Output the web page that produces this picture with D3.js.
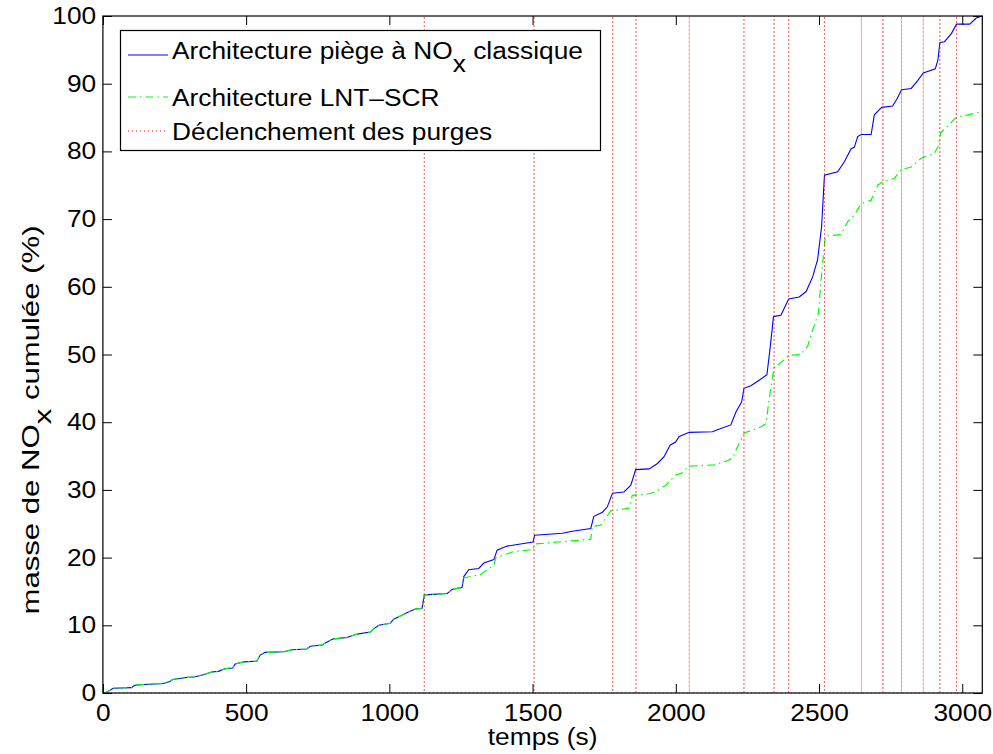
<!DOCTYPE html>
<html>
<head>
<meta charset="utf-8">
<script src="https://cdn.jsdelivr.net/npm/d3@7"></script>
<style>
  body { margin: 0; background: #fff; }
  text { font-family: "Liberation Sans", Arial, Helvetica, sans-serif; fill: #000; }
</style>
</head>
<body>
<svg id="chart" width="993" height="754"></svg>
<script>
// Axis ticks
const xTicks = [0, 500, 1000, 1500, 2000, 2500, 3000];
const yTicks = [0, 10, 20, 30, 40, 50, 60, 70, 80, 90, 100];

// Purge trigger instants (s)
const purgeTimes = [1122, 1505, 1780, 1861, 2047, 2238, 2343, 2394, 2519, 2648, 2723, 2788, 2864, 2922, 2980];

// Cumulated NOx mass (%), conventional NOx trap: [time s, %]
const piegeClassique = [
  [0,0],[12,0.1],[25,0.4],[36,0.7],[100,0.8],[110,1.1],[120,1.2],[164,1.3],[211,1.4],[234,1.7],
  [243,2.0],[292,2.3],[322,2.4],[351,2.7],[380,3.1],[403,3.2],[427,3.6],[453,3.7],[462,4.3],[491,4.6],
  [537,4.7],[549,5.6],[566,6.0],[631,6.1],[660,6.4],[712,6.5],[724,6.9],[765,7.1],[794,7.8],[805,8.0],
  [852,8.2],[887,8.7],[934,9.0],[943,9.4],[963,10.0],[1003,10.3],[1015,10.9],[1044,11.5],[1068,12.0],[1091,12.4],
  [1114,12.5],[1122,14.5],[1202,14.7],[1219,15.3],[1254,15.6],[1260,17.2],[1277,18.2],[1312,18.4],[1330,19.2],[1365,19.7],
  [1376,21.1],[1411,21.7],[1458,22.0],[1502,22.3],[1507,23.3],[1604,23.6],[1639,23.9],[1703,24.3],[1714,26.1],[1744,26.7],
  [1761,27.5],[1779,29.5],[1819,29.7],[1843,30.7],[1860,33.0],[1907,33.1],[1936,33.9],[1959,34.9],[1980,36.6],[2000,37.1],
  [2012,37.9],[2047,38.5],[2128,38.6],[2145,38.9],[2192,39.6],[2210,41.5],[2230,43.0],[2238,45.0],[2262,45.4],[2291,46.2],
  [2318,47.0],[2330,51.2],[2341,55.6],[2367,55.8],[2394,58.2],[2431,58.5],[2455,59.3],[2478,61.5],[2495,64.0],[2509,68.9],
  [2519,76.5],[2565,77.0],[2589,78.5],[2612,80.4],[2623,80.6],[2635,82.2],[2647,82.5],[2682,82.5],[2693,85.4],[2719,86.5],
  [2757,86.7],[2773,87.8],[2788,89.1],[2822,89.3],[2845,90.5],[2864,91.6],[2906,92.2],[2915,93.5],[2922,96.1],[2938,96.2],
  [2962,97.4],[2980,98.8],[3026,98.8],[3049,99.7],[3070,100]
];

// Cumulated NOx mass (%), LNT-SCR architecture: [time s, %]
const lntScr = [
  [0,0],[12,0.1],[25,0.4],[36,0.7],[100,0.8],[110,1.1],[120,1.2],[164,1.3],[211,1.4],[234,1.7],
  [243,2.0],[292,2.3],[322,2.4],[351,2.7],[380,3.1],[403,3.2],[427,3.6],[453,3.7],[462,4.3],[491,4.6],
  [537,4.7],[549,5.6],[566,6.0],[631,6.1],[660,6.4],[712,6.5],[724,6.9],[765,7.1],[794,7.8],[805,8.0],
  [852,8.2],[887,8.7],[934,9.0],[943,9.4],[963,10.0],[1003,10.3],[1015,10.9],[1044,11.5],[1068,12.0],[1091,12.4],
  [1114,12.5],[1122,14.5],[1202,14.7],[1219,15.3],[1254,15.6],[1260,17.0],[1318,17.5],[1365,18.9],[1372,20.0],[1435,20.9],
  [1502,21.2],[1507,22.0],[1645,22.5],[1703,22.7],[1709,24.6],[1738,24.8],[1773,26.9],[1837,27.3],[1848,29.2],[1901,29.4],
  [1930,29.7],[1965,30.7],[2000,32.2],[2017,32.4],[2047,33.5],[2134,33.7],[2180,34.3],[2198,34.7],[2216,36.4],[2239,38.4],
  [2297,39.3],[2315,39.8],[2321,41.8],[2332,45.2],[2344,48.3],[2355,48.4],[2396,49.9],[2437,50.0],[2460,51.2],[2478,53.6],
  [2498,56.1],[2507,61.0],[2516,64.9],[2522,67.5],[2577,67.7],[2600,69.6],[2623,70.6],[2647,72.3],[2682,72.8],[2705,75.0],
  [2722,75.5],[2763,76.0],[2787,77.3],[2822,77.7],[2857,79.0],[2903,79.7],[2915,80.7],[2924,82.7],[2981,85.1],[3020,85.4],
  [3070,85.9]
];

const xMax = 3070;
const fontSize = 23.5;
const stretch = "scale(1.12,1)";   // wide Helvetica-like lettering

const svg = d3.select("#chart");
const plotLeft = 102.9, plotRight = 982.3, plotTop = 16, plotBottom = 693;

const x = d3.scaleLinear().domain([0, xMax]).range([plotLeft, plotRight]);
const y = d3.scaleLinear().domain([0, 100]).range([plotBottom, plotTop]);

// Purge signal: 0 everywhere with a spike to 100 at each trigger
const purgeSignal = [[0, 0]];
purgeTimes.forEach(t => { purgeSignal.push([t, 0], [t, 100], [t, 0]); });
purgeSignal.push([xMax, 0]);

const line = d3.line().x(d => x(d[0])).y(d => y(d[1]));

const plot = svg.append("g");
plot.append("path").datum(piegeClassique)
  .attr("d", line).attr("fill", "none").attr("stroke", "#0000ff").attr("stroke-width", 1.1);
plot.append("path").datum(lntScr)
  .attr("d", line).attr("fill", "none").attr("stroke", "#00ff00").attr("stroke-width", 1.2)
  .attr("stroke-dasharray", "8,4,1.5,4");
plot.append("path").datum(purgeSignal)
  .attr("d", line).attr("fill", "none").attr("stroke", "#ff0000").attr("stroke-width", 1)
  .attr("stroke-opacity", 0.75).attr("stroke-dasharray", "1,3");

// Axes (ticks inside the box, on all four sides)
function styleAxis(g) {
  g.select(".domain").remove();
  g.selectAll("line").attr("stroke", "#000");
  g.selectAll("text").attr("font-size", fontSize)
    .attr("font-family", '"Liberation Sans", Arial, sans-serif')
    .attr("fill", "#000").attr("transform", stretch);
}
svg.append("g").attr("transform", `translate(0,${plotBottom})`)
  .call(d3.axisBottom(x).tickValues(xTicks).tickFormat(d3.format("d")).tickSizeInner(-9).tickSizeOuter(0).tickPadding(11))
  .call(styleAxis);
svg.append("g").attr("transform", `translate(0,${plotTop})`)
  .call(d3.axisTop(x).tickValues(xTicks).tickFormat("").tickSizeInner(-9).tickSizeOuter(0))
  .call(styleAxis);
svg.append("g").attr("transform", `translate(${plotLeft},0)`)
  .call(d3.axisLeft(y).tickValues(yTicks).tickFormat(d3.format("d")).tickSizeInner(-9).tickSizeOuter(0).tickPadding(6))
  .call(styleAxis);
svg.append("g").attr("transform", `translate(${plotRight},0)`)
  .call(d3.axisRight(y).tickValues(yTicks).tickFormat("").tickSizeInner(-9).tickSizeOuter(0))
  .call(styleAxis);

svg.append("rect").attr("x", plotLeft).attr("y", plotTop)
  .attr("width", plotRight - plotLeft).attr("height", plotBottom - plotTop)
  .attr("fill", "none").attr("stroke", "#000").attr("stroke-width", 1.2);

// Axis titles
svg.append("text")
  .attr("transform", `translate(${(plotLeft + plotRight) / 2},745) ${stretch}`)
  .attr("text-anchor", "middle").attr("font-size", fontSize)
  .text("temps (s)");

const yTitle = svg.append("text")
  .attr("transform", "translate(39,420) rotate(-90) scale(1.27,1)")
  .attr("text-anchor", "middle").attr("font-size", 24.5);
yTitle.append("tspan").text("masse de NO");
yTitle.append("tspan").attr("dy", 12).text("x");
yTitle.append("tspan").attr("dy", -12).text(" cumulée (%)");

// Legend
const legendLabels = [
  { parts: [["Architecture piège à NO", 0], ["x", 13], [" classique", -13]], color: "#0000ff", dash: null, ly: 55, ty: 59 },
  { parts: [["Architecture LNT\u2013SCR", 0]], color: "#00ff00", dash: "8,4,1.5,4", ly: 97, ty: 106 },
  { parts: [["Déclenchement des purges", 0]], color: "#ff0000", dash: "1,3", ly: 131, ty: 139.5 }
];
const legend = svg.append("g");
legend.append("rect").attr("x", 120.5).attr("y", 30.5).attr("width", 480).attr("height", 120)
  .attr("fill", "#fff").attr("stroke", "#000").attr("stroke-width", 1.2);
legendLabels.forEach(item => {
  legend.append("line").attr("x1", 128).attr("x2", 168).attr("y1", item.ly).attr("y2", item.ly)
    .attr("stroke", item.color).attr("stroke-width", 1.2)
    .attr("stroke-dasharray", item.dash);
  const t = legend.append("text")
    .attr("transform", `translate(172,${item.ty}) ${stretch}`)
    .attr("font-size", fontSize);
  item.parts.forEach(p => t.append("tspan").attr("dy", p[1]).text(p[0]));
});
</script>
</body>
</html>
